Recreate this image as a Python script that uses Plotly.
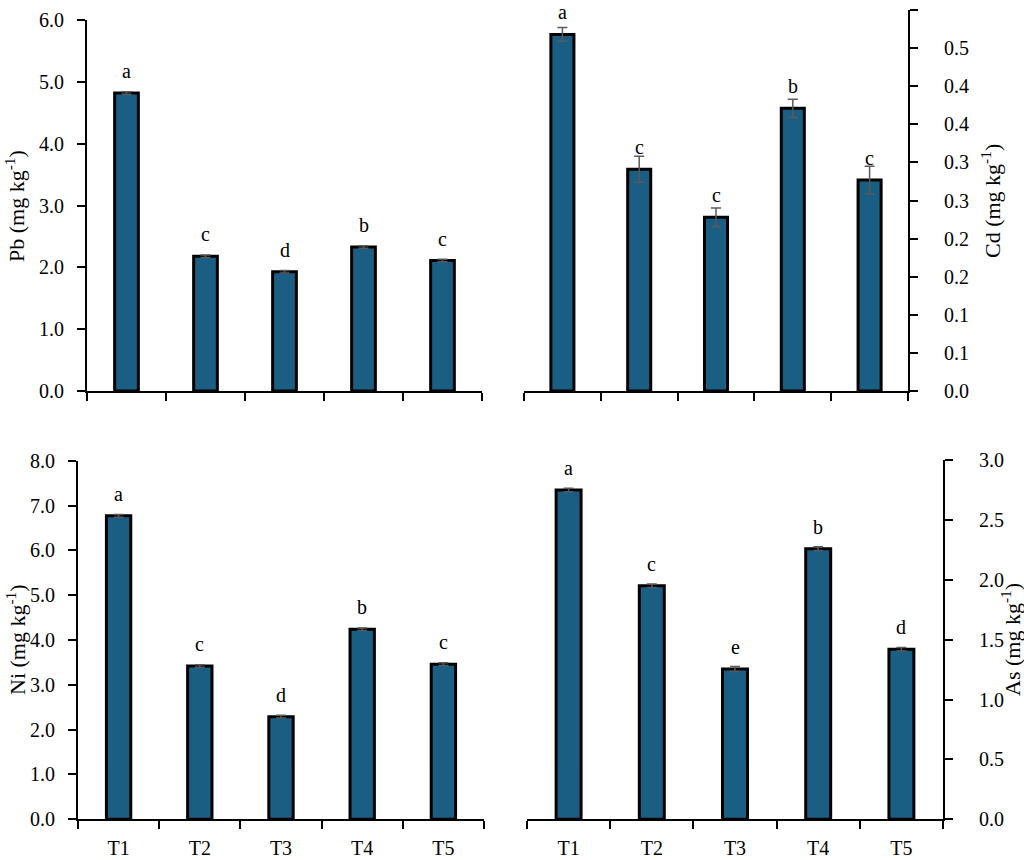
import plotly.graph_objects as go

# ── data ──────────────────────────────────────────────────────────────
treatments = ["T1", "T2", "T3", "T4", "T5"]

pb = [4.82, 2.18, 1.93, 2.33, 2.11]
pb_err = [0.02, 0.02, 0.02, 0.02, 0.02]
pb_letters = ["a", "c", "d", "b", "c"]

cd = [0.468, 0.291, 0.228, 0.371, 0.277]
cd_err = [0.009, 0.017, 0.012, 0.012, 0.018]
cd_letters = ["a", "c", "c", "b", "c"]

ni = [6.77, 3.42, 2.29, 4.24, 3.46]
ni_err = [0.03, 0.03, 0.03, 0.03, 0.03]
ni_letters = ["a", "c", "d", "b", "c"]

as_ = [2.75, 1.95, 1.255, 2.26, 1.42]
as_err = [0.015, 0.015, 0.02, 0.015, 0.015]
as_letters = ["a", "c", "e", "b", "d"]

pb_ticks = [0, 1, 2, 3, 4, 5, 6]
ni_ticks = [0, 1, 2, 3, 4, 5, 6, 7, 8]
as_ticks = [0, 0.5, 1.0, 1.5, 2.0, 2.5, 3.0]
cd_tickvals = [0, 0.05, 0.1, 0.15, 0.2, 0.25, 0.3, 0.35, 0.4, 0.45, 0.5]
cd_ticktext = ["0.0", "0.1", "0.1", "0.2", "0.2", "0.3", "0.3", "0.4", "0.4", "0.5", "0.5"]

W, H = 1024, 860
BAR = "#1a5f83"
FONT = "Liberation Serif, DejaVu Serif, serif"


def px_x(a, b):
    return [a / W, b / W]


def px_y(top, bottom):
    return [1 - bottom / H, 1 - top / H]


panels = [
    dict(v=pb, e=pb_err, l=pb_letters, n="", yr=[0, 6], side="left",
         tv=pb_ticks, tt=[f"{t:.1f}" for t in pb_ticks],
         dx=px_x(87, 482), dy=px_y(20, 391), labels=False),
    dict(v=cd, e=cd_err, l=cd_letters, n="2", yr=[0, 0.5], side="right",
         tv=cd_tickvals, tt=cd_ticktext,
         dx=px_x(524, 908), dy=px_y(10, 391), labels=False),
    dict(v=ni, e=ni_err, l=ni_letters, n="3", yr=[0, 8], side="left",
         tv=ni_ticks, tt=[f"{t:.1f}" for t in ni_ticks],
         dx=px_x(78, 484), dy=px_y(460.7, 819.3), labels=True),
    dict(v=as_, e=as_err, l=as_letters, n="4", yr=[0, 3], side="right",
         tv=as_ticks, tt=[f"{t:.1f}" for t in as_ticks],
         dx=px_x(527, 943), dy=px_y(460, 819.3), labels=True),
]

fig = go.Figure()
annotations = []

for p in panels:
    xa, ya = "x" + p["n"], "y" + p["n"]
    fig.add_trace(go.Bar(
        x=treatments, y=p["v"], xaxis=xa, yaxis=ya, width=0.3,
        marker=dict(color=BAR, line=dict(color="black", width=3)),
        error_y=dict(type="data", array=p["e"], color="#5a5a5a",
                     thickness=1.5, width=5),
        showlegend=False,
    ))
    for t, v, l in zip(treatments, p["v"], p["l"]):
        annotations.append(dict(
            x=t, y=v, xref=xa, yref=ya, text=l, showarrow=False,
            yanchor="bottom", yshift=9,
            font=dict(family=FONT, size=20, color="black"),
        ))
    fig.layout["xaxis" + p["n"]] = dict(
        domain=p["dx"], anchor=ya, type="category", range=[-0.5, 4.5],
        showline=True, linecolor="black", linewidth=2,
        ticks="outside", tickson="boundaries", ticklen=8, tickwidth=2,
        tickcolor="black", showticklabels=p["labels"], showgrid=False,
        tickfont=dict(family=FONT, size=20, color="black"),
        ticklabelstandoff=10, zeroline=False, automargin=False,
    )
    fig.layout["yaxis" + p["n"]] = dict(
        domain=p["dy"], anchor=xa, side=p["side"], range=p["yr"],
        tickvals=p["tv"], ticktext=p["tt"],
        showline=True, linecolor="black", linewidth=2,
        ticks="outside", ticklen=8, tickwidth=2, tickcolor="black",
        showgrid=False, zeroline=False, automargin=False,
        tickfont=dict(family=FONT, size=20, color="black"),
        ticklabelstandoff=9 if p["side"] == "left" else 22,
    )

# y axis titles, placed like the original (overlapping the tick labels a little)
titles = [
    ("Pb (mg kg<sup>-1</sup>)", 15, 206),
    ("Cd (mg kg<sup>-1</sup>)", 991, 201),
    ("Ni (mg kg<sup>-1</sup>)", 16, 640),
    ("As (mg kg<sup>-1</sup>)", 1011, 640),
]
for txt, cx, cy in titles:
    annotations.append(dict(
        x=cx / W, y=1 - cy / H, xref="paper", yref="paper",
        text=txt, textangle=-90, showarrow=False,
        xanchor="center", yanchor="middle",
        font=dict(family=FONT, size=22, color="black"),
    ))

fig.update_layout(
    width=W, height=H, margin=dict(l=0, r=0, t=0, b=0, pad=0),
    paper_bgcolor="white", plot_bgcolor="white",
    annotations=annotations, bargap=0.7,
)

# drop the default page margin so the figure fills the window exactly
fig.write_html("out.html", config={"displayModeBar": False}, post_script=(
    "document.body.style.margin='0';"
    "document.body.style.overflow='hidden';"
))
